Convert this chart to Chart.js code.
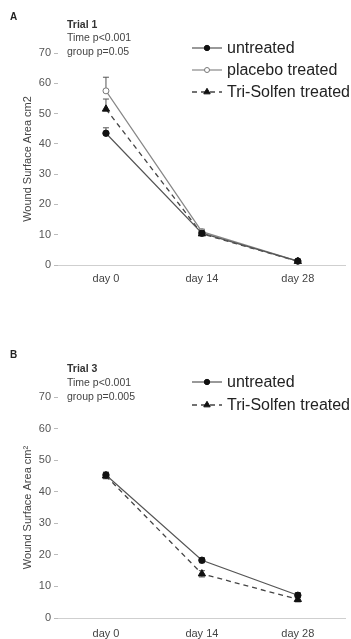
<!DOCTYPE html>
<html>
<head>
<meta charset="utf-8">
<script src="https://cdn.jsdelivr.net/npm/chart.js@4"></script>
<style>
  html, body { margin: 0; padding: 0; background: #fff; }
  .panel { position: absolute; left: 0; width: 351px; }
  #wrapA { top: 0; height: 300px; }
  #wrapB { top: 330px; height: 309px; }
</style>
</head>
<body>
<div class="panel" id="wrapA"><canvas id="chartA" width="351" height="300"></canvas></div>
<div class="panel" id="wrapB"><canvas id="chartB" width="351" height="309"></canvas></div>
<script>
const days = ["day 0", "day 14", "day 28"];
const yTicks = [0, 10, 20, 30, 40, 50, 60, 70];

// Trial 1 (panel A)
const trial1Untreated = [43.5, 10.5, 1.3];
const trial1UntreatedErr = [1.8, 0.8, 0.3];
const trial1Placebo = [57.5, 11.0, 1.3];
const trial1PlaceboErr = [4.5, 0.8, 0.3];
const trial1TriSolfen = [51.5, 10.3, 1.2];
const trial1TriSolfenErr = [3.3, 0.8, 0.3];

// Trial 3 (panel B)
const trial3Untreated = [45.3, 18.3, 7.2];
const trial3UntreatedErr = [0.9, 0.8, 0.8];
const trial3TriSolfen = [45.0, 14.0, 5.9];
const trial3TriSolfenErr = [0.9, 1.0, 0.8];

const FONT = "Liberation Sans, Arial, sans-serif";

function untreatedSet(data, err) {
  return {
    label: "untreated", data: data, err: err,
    borderColor: "#555", borderWidth: 1.2,
    pointStyle: "circle", pointRadius: 3.2,
    pointBackgroundColor: "#111", pointBorderColor: "#111", pointBorderWidth: 1
  };
}
function placeboSet(data, err) {
  return {
    label: "placebo treated", data: data, err: err,
    borderColor: "#888", borderWidth: 1.2,
    pointStyle: "circle", pointRadius: 3,
    pointBackgroundColor: "#fff", pointBorderColor: "#777", pointBorderWidth: 1
  };
}
function triSet(data, err) {
  return {
    label: "Tri-Solfen treated", data: data, err: err,
    borderColor: "#444", borderWidth: 1.3, borderDash: [5, 4],
    pointStyle: "triangle", pointRadius: 4.2,
    pointBackgroundColor: "#111", pointBorderColor: "#111", pointBorderWidth: 1
  };
}

// error bars, drawn under the markers
const errorBars = {
  id: "errorBars",
  beforeDatasetsDraw(chart, args, opts) {
    const ctx = chart.ctx;
    const y = chart.scales.y;
    ctx.save();
    ctx.strokeStyle = "#555";
    ctx.lineWidth = 1;
    chart.data.datasets.forEach((ds, i) => {
      const meta = chart.getDatasetMeta(i);
      meta.data.forEach((pt, j) => {
        const v = ds.data[j], e = ds.err[j];
        const top = y.getPixelForValue(v + e);
        const bot = opts.both ? y.getPixelForValue(v - e) : y.getPixelForValue(v);
        ctx.beginPath();
        ctx.moveTo(pt.x, top); ctx.lineTo(pt.x, bot);
        ctx.moveTo(pt.x - 3, top); ctx.lineTo(pt.x + 3, top);
        if (opts.both) { ctx.moveTo(pt.x - 3, bot); ctx.lineTo(pt.x + 3, bot); }
        ctx.stroke();
      });
    });
    ctx.restore();
  }
};

// panel letter, trial notes, y title and legend
const panelText = {
  id: "panelText",
  afterDraw(chart, args, opts) {
    const ctx = chart.ctx;
    const area = chart.chartArea;
    ctx.save();
    ctx.textBaseline = "middle";
    ctx.textAlign = "left";
    ctx.fillStyle = "#222";
    ctx.font = "bold 10px " + FONT;
    ctx.fillText(opts.letter, 10, opts.letterY);
    ctx.font = "bold 10.5px " + FONT;
    ctx.fillStyle = "#333";
    ctx.fillText(opts.notes[0], 67, opts.notesY[0]);
    ctx.font = "10.5px " + FONT;
    ctx.fillStyle = "#444";
    ctx.fillText(opts.notes[1], 67, opts.notesY[1]);
    ctx.fillText(opts.notes[2], 67, opts.notesY[2]);

    ctx.save();
    ctx.translate(28, (area.top + area.bottom) / 2);
    ctx.rotate(-Math.PI / 2);
    ctx.textAlign = "center";
    ctx.font = "11px " + FONT;
    ctx.fillStyle = "#444";
    ctx.fillText(opts.yTitle, 0, 0);
    ctx.restore();

    // legend
    chart.data.datasets.forEach((ds, i) => {
      const ly = opts.legendY[i];
      ctx.save();
      ctx.strokeStyle = ds.borderColor;
      ctx.lineWidth = ds.borderWidth;
      ctx.setLineDash(ds.borderDash || []);
      ctx.beginPath();
      ctx.moveTo(192, ly); ctx.lineTo(222, ly);
      ctx.stroke();
      ctx.setLineDash([]);
      ctx.fillStyle = ds.pointBackgroundColor;
      ctx.strokeStyle = ds.pointBorderColor;
      ctx.lineWidth = ds.pointBorderWidth;
      Chart.helpers.drawPoint(ctx, {
        pointStyle: ds.pointStyle, radius: ds.pointRadius - 0.5, rotation: 0, borderWidth: 1
      }, 207, ly);
      ctx.restore();
      ctx.font = "16px " + FONT;
      ctx.fillStyle = "#222";
      ctx.fillText(ds.label, 227, ly + 1);
    });
    ctx.restore();
  }
};

function makeChart(id, datasets, cfg) {
  return new Chart(document.getElementById(id).getContext("2d"), {
    type: "line",
    data: { labels: days, datasets: datasets },
    options: {
      responsive: false,
      animation: false,
      layout: { padding: { top: cfg.top, right: 5, left: 0, bottom: 0 } },
      elements: { line: { tension: 0 } },
      plugins: {
        legend: { display: false },
        tooltip: { enabled: false },
        errorBars: { both: cfg.both },
        panelText: cfg.text
      },
      scales: {
        x: {
          offset: true,
          grid: { display: true, drawOnChartArea: false, drawTicks: false },
          border: { color: "#cfcfcf", width: 1 },
          ticks: { color: "#444", font: { family: FONT, size: 11 }, padding: cfg.xPad },
          afterFit(scale) { scale.height = cfg.xHeight; }
        },
        y: {
          min: 0, max: 70,
          afterBuildTicks(scale) { scale.ticks = yTicks.map(v => ({ value: v })); },
          grid: { drawOnChartArea: false, drawTicks: true, tickLength: 4, color: "#bbb" },
          border: { display: false },
          ticks: { color: "#555", font: { family: FONT, size: 11 }, padding: 3 },
          afterFit(scale) { scale.width = 58; }
        }
      }
    },
    plugins: [errorBars, panelText]
  });
}

makeChart("chartA", [
  untreatedSet(trial1Untreated, trial1UntreatedErr),
  placeboSet(trial1Placebo, trial1PlaceboErr),
  triSet(trial1TriSolfen, trial1TriSolfenErr)
], {
  top: 53, xHeight: 35, xPad: 7, both: false,
  text: {
    letter: "A", letterY: 17,
    notes: ["Trial 1", "Time p<0.001", "group p=0.05"], notesY: [25, 38, 52],
    yTitle: "Wound Surface Area cm2",
    legendY: [48, 70, 92]
  }
});

makeChart("chartB", [
  untreatedSet(trial3Untreated, trial3UntreatedErr),
  triSet(trial3TriSolfen, trial3TriSolfenErr)
], {
  top: 67, xHeight: 21, xPad: 9, both: true,
  text: {
    letter: "B", letterY: 25,
    notes: ["Trial 3", "Time p<0.001", "group p=0.005"], notesY: [39, 53, 67],
    yTitle: "Wound Surface Area cm\u00B2",
    legendY: [52, 75]
  }
});
</script>
</body>
</html>
